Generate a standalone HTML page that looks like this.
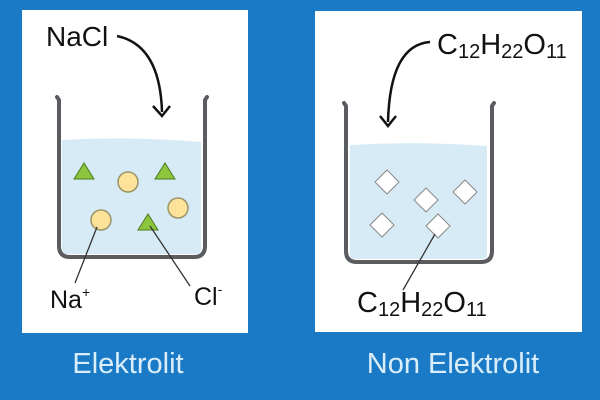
<!DOCTYPE html>
<html><head><meta charset="utf-8"><style>
html,body{margin:0;padding:0;width:600px;height:400px;overflow:hidden;background:#1b7ac6}
svg{display:block}
text{font-family:"Liberation Sans",sans-serif}
</style></head><body>
<svg width="600" height="400" viewBox="0 0 600 400">
<rect width="600" height="400" fill="#1b7ac6"/>
<rect x="22" y="10" width="226" height="323" fill="#fff"/>
<rect x="315" y="11" width="267" height="321" fill="#fff"/>

<!-- Left beaker -->
<path d="M62 140 Q130 136 201 142 L201 250 Q201 254 196 254 L66 254 Q62 254 62 250 Z" fill="#d7ebf6"/>
<path d="M57 97 L59 100 L59 246 Q59 257 70 257 L194 257 Q205 257 205 246 L205 100 L207 97" fill="none" stroke="#5a5c60" stroke-width="4" stroke-linecap="round"/>
<g fill="#8cc63f" stroke="#4f7a1f" stroke-width="1">
<polygon points="84,163 94,179 74,179"/>
<polygon points="165,163 175,179 155,179"/>
<polygon points="148,214 158,230 138,230"/>
</g>
<g fill="#fde29a" stroke="#9b9468" stroke-width="1.5">
<circle cx="128" cy="182" r="10"/>
<circle cx="178" cy="208" r="10"/>
<circle cx="101" cy="220" r="10"/>
</g>
<line x1="97" y1="227" x2="75" y2="283" stroke="#333" stroke-width="1.3"/>
<line x1="150" y1="226" x2="190" y2="286" stroke="#333" stroke-width="1.3"/>
<path d="M117 36 Q160 45 162 112" fill="none" stroke="#111" stroke-width="2.5"/>
<path d="M153 106 L162 116 L170 106" fill="none" stroke="#111" stroke-width="2.5"/>
<text x="46" y="46" font-size="28" fill="#111">NaCl</text>
<text x="50" y="308" font-size="25" fill="#111">Na<tspan font-size="14" dy="-11">+</tspan></text>
<text x="194" y="305" font-size="25" fill="#111">Cl<tspan font-size="14" dy="-11">-</tspan></text>
<text x="128" y="373" font-size="29" fill="#d9eefa" text-anchor="middle">Elektrolit</text>

<!-- Right beaker -->
<path d="M350 145 Q420 141 487 146 L487 255 Q487 259 482 259 L354 259 Q350 259 350 255 Z" fill="#d7ebf6"/>
<path d="M344 103 L346 106 L346 251 Q346 262 357 262 L481 262 Q492 262 492 251 L492 106 L494 103" fill="none" stroke="#5a5c60" stroke-width="4" stroke-linecap="round"/>
<g fill="#fff" stroke="#888" stroke-width="1">
<polygon points="387,170 399,182 387,194 375,182"/>
<polygon points="426,188 438,200 426,212 414,200"/>
<polygon points="465,180 477,192 465,204 453,192"/>
<polygon points="382,213 394,225 382,237 370,225"/>
<polygon points="438,214 450,226 438,238 426,226"/>
</g>
<line x1="435" y1="234" x2="403" y2="290" stroke="#333" stroke-width="1.3"/>
<path d="M430 42 Q390 45 388 122" fill="none" stroke="#111" stroke-width="2.5"/>
<path d="M380 116 L388 126 L396 116" fill="none" stroke="#111" stroke-width="2.5"/>
<text x="437" y="54" font-size="29" fill="#111">C<tspan font-size="20" dy="4">12</tspan><tspan dy="-4">H</tspan><tspan font-size="20" dy="4">22</tspan><tspan dy="-4">O</tspan><tspan font-size="20" dy="4">11</tspan></text>
<text x="357" y="312" font-size="29" fill="#111">C<tspan font-size="20" dy="4">12</tspan><tspan dy="-4">H</tspan><tspan font-size="20" dy="4">22</tspan><tspan dy="-4">O</tspan><tspan font-size="20" dy="4">11</tspan></text>
<text x="453" y="373" font-size="29" fill="#d9eefa" text-anchor="middle">Non Elektrolit</text>
</svg>
</body></html>
